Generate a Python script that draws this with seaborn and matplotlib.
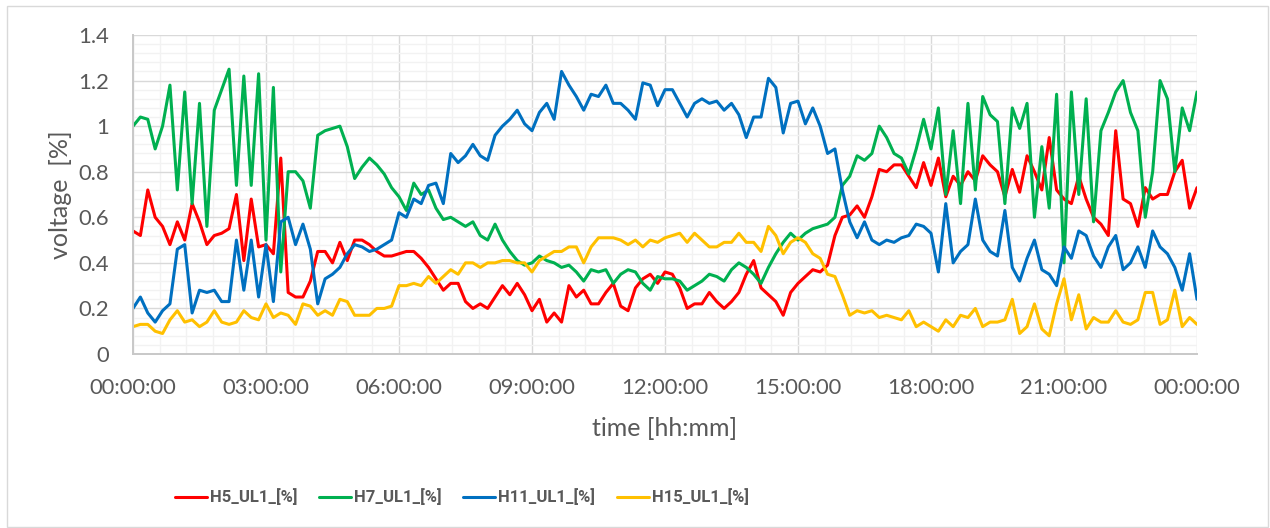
import numpy as np
import pandas as pd
import matplotlib
matplotlib.use("Agg")
import matplotlib.pyplot as plt
from matplotlib.patches import Rectangle
from matplotlib.ticker import FuncFormatter, MultipleLocator
import seaborn as sns

# Sample times: one reading every 10 minutes over a full day
minutes = np.arange(0, 24 * 60 + 1, 10)

h5 = [0.54, 0.52, 0.72, 0.60, 0.56, 0.48, 0.58, 0.50, 0.66, 0.58,
      0.48, 0.52, 0.53, 0.55, 0.70, 0.41, 0.68, 0.47, 0.48, 0.44,
      0.86, 0.27, 0.25, 0.25, 0.32, 0.45, 0.45, 0.40, 0.49, 0.41,
      0.50, 0.50, 0.48, 0.45, 0.43, 0.43, 0.44, 0.45, 0.45, 0.42,
      0.38, 0.33, 0.28, 0.31, 0.31, 0.23, 0.20, 0.22, 0.20, 0.25,
      0.30, 0.26, 0.31, 0.26, 0.19, 0.24, 0.14, 0.18, 0.14, 0.30,
      0.25, 0.28, 0.22, 0.22, 0.27, 0.31, 0.21, 0.19, 0.29, 0.33,
      0.35, 0.31, 0.36, 0.35, 0.29, 0.20, 0.22, 0.22, 0.27, 0.23,
      0.20, 0.23, 0.27, 0.35, 0.41, 0.29, 0.26, 0.23, 0.17, 0.27,
      0.31, 0.34, 0.37, 0.36, 0.39, 0.52, 0.60, 0.61, 0.65, 0.60,
      0.69, 0.81, 0.80, 0.83, 0.83, 0.78, 0.73, 0.84, 0.74, 0.86,
      0.69, 0.78, 0.74, 0.80, 0.76, 0.87, 0.83, 0.80, 0.69, 0.81,
      0.71, 0.87, 0.80, 0.72, 0.95, 0.72, 0.68, 0.66, 0.78, 0.68,
      0.60, 0.57, 0.52, 0.98, 0.68, 0.66, 0.56, 0.73, 0.68, 0.70,
      0.70, 0.80, 0.85, 0.64, 0.73]

h7 = [1.00, 1.04, 1.03, 0.90, 1.00, 1.18, 0.72, 1.15, 0.66, 1.10,
      0.56, 1.07, 1.16, 1.25, 0.74, 1.22, 0.74, 1.23, 0.50, 1.17,
      0.36, 0.80, 0.80, 0.76, 0.64, 0.96, 0.98, 0.99, 1.00, 0.91,
      0.77, 0.82, 0.86, 0.83, 0.79, 0.73, 0.69, 0.63, 0.75, 0.70,
      0.72, 0.64, 0.59, 0.60, 0.58, 0.56, 0.58, 0.52, 0.50, 0.57,
      0.50, 0.45, 0.41, 0.39, 0.40, 0.43, 0.41, 0.40, 0.38, 0.39,
      0.36, 0.32, 0.37, 0.36, 0.37, 0.31, 0.35, 0.37, 0.36, 0.31,
      0.28, 0.34, 0.33, 0.33, 0.32, 0.28, 0.30, 0.32, 0.35, 0.34,
      0.32, 0.37, 0.40, 0.38, 0.35, 0.31, 0.38, 0.44, 0.49, 0.53,
      0.50, 0.53, 0.55, 0.56, 0.57, 0.60, 0.74, 0.78, 0.87, 0.85,
      0.88, 1.00, 0.95, 0.88, 0.86, 0.79, 0.90, 1.03, 0.90, 1.08,
      0.70, 0.98, 0.66, 1.10, 0.72, 1.13, 1.05, 1.02, 0.66, 1.08,
      0.99, 1.10, 0.60, 0.91, 0.64, 1.14, 0.40, 1.15, 0.70, 1.12,
      0.58, 0.98, 1.06, 1.15, 1.20, 1.06, 0.98, 0.60, 0.80, 1.20,
      1.12, 0.80, 1.08, 0.98, 1.15]

h11 = [0.20, 0.25, 0.18, 0.14, 0.19, 0.22, 0.46, 0.48, 0.18, 0.28,
       0.27, 0.28, 0.23, 0.23, 0.50, 0.28, 0.50, 0.25, 0.48, 0.23,
       0.58, 0.60, 0.48, 0.57, 0.46, 0.22, 0.33, 0.35, 0.38, 0.44,
       0.48, 0.47, 0.45, 0.46, 0.48, 0.50, 0.62, 0.60, 0.68, 0.66,
       0.74, 0.75, 0.66, 0.88, 0.84, 0.87, 0.92, 0.87, 0.85, 0.96,
       1.00, 1.03, 1.07, 1.01, 0.98, 1.06, 1.10, 1.03, 1.24, 1.18,
       1.13, 1.07, 1.14, 1.13, 1.18, 1.10, 1.10, 1.07, 1.03, 1.19,
       1.18, 1.09, 1.16, 1.16, 1.10, 1.04, 1.10, 1.12, 1.10, 1.11,
       1.07, 1.10, 1.05, 0.95, 1.04, 1.04, 1.21, 1.17, 0.97, 1.10,
       1.11, 1.01, 1.08, 1.00, 0.88, 0.90, 0.72, 0.58, 0.51, 0.58,
       0.50, 0.48, 0.50, 0.49, 0.51, 0.52, 0.57, 0.56, 0.53, 0.36,
       0.66, 0.40, 0.45, 0.48, 0.68, 0.50, 0.45, 0.43, 0.63, 0.38,
       0.32, 0.42, 0.50, 0.37, 0.35, 0.30, 0.47, 0.42, 0.54, 0.52,
       0.43, 0.38, 0.47, 0.52, 0.37, 0.40, 0.47, 0.38, 0.54, 0.47,
       0.44, 0.38, 0.28, 0.44, 0.24]

h15 = [0.12, 0.13, 0.13, 0.10, 0.09, 0.15, 0.19, 0.14, 0.15, 0.12,
       0.14, 0.19, 0.14, 0.13, 0.14, 0.19, 0.16, 0.15, 0.22, 0.16,
       0.18, 0.17, 0.13, 0.22, 0.21, 0.17, 0.19, 0.17, 0.24, 0.23,
       0.17, 0.17, 0.17, 0.20, 0.20, 0.21, 0.30, 0.30, 0.31, 0.30,
       0.34, 0.31, 0.34, 0.37, 0.35, 0.40, 0.40, 0.38, 0.40, 0.40,
       0.41, 0.41, 0.40, 0.40, 0.36, 0.41, 0.43, 0.45, 0.45, 0.47,
       0.47, 0.40, 0.47, 0.51, 0.51, 0.51, 0.50, 0.48, 0.50, 0.47,
       0.50, 0.49, 0.51, 0.52, 0.53, 0.49, 0.53, 0.50, 0.47, 0.47,
       0.49, 0.49, 0.53, 0.49, 0.49, 0.45, 0.56, 0.52, 0.44, 0.49,
       0.51, 0.49, 0.44, 0.42, 0.35, 0.34, 0.26, 0.17, 0.19, 0.18,
       0.19, 0.16, 0.17, 0.16, 0.15, 0.19, 0.12, 0.14, 0.12, 0.10,
       0.15, 0.12, 0.17, 0.16, 0.20, 0.12, 0.14, 0.14, 0.15, 0.24,
       0.09, 0.12, 0.22, 0.11, 0.08, 0.22, 0.33, 0.15, 0.26, 0.11,
       0.16, 0.14, 0.14, 0.19, 0.14, 0.13, 0.15, 0.27, 0.27, 0.13,
       0.15, 0.28, 0.12, 0.16, 0.13]

series_names = ["H5_UL1_[%]", "H7_UL1_[%]", "H11_UL1_[%]", "H15_UL1_[%]"]
series_colors = ["#FF0000", "#00B050", "#0070C0", "#FFC000"]
x_tick_labels = ["00:00:00", "03:00:00", "06:00:00", "09:00:00", "12:00:00",
                 "15:00:00", "18:00:00", "21:00:00", "00:00:00"]

wide = pd.DataFrame({"hours": minutes / 60.0,
                     series_names[0]: h5, series_names[1]: h7,
                     series_names[2]: h11, series_names[3]: h15})
long = wide.melt(id_vars="hours", var_name="series", value_name="voltage")

sns.set_theme(style="white")
plt.rcParams["font.family"] = ["Lato", "DejaVu Sans"]
text_color = "#595959"

fig = plt.figure(figsize=(12.7, 5.28), dpi=100)
ax = fig.add_axes([133 / 1270, 1 - 354 / 528, (1197 - 133) / 1270, (354 - 35) / 528])

sns.lineplot(data=long, x="hours", y="voltage", hue="series",
             hue_order=series_names, palette=series_colors,
             linewidth=2.2, legend=False, ax=ax)

ax.set_xlim(0, 24)
ax.set_ylim(0, 1.4)
ax.set_xticks(np.arange(0, 25, 3))
ax.set_xticklabels(x_tick_labels)
ax.xaxis.set_minor_locator(MultipleLocator(0.6))
ax.yaxis.set_major_locator(MultipleLocator(0.2))
ax.yaxis.set_minor_locator(MultipleLocator(0.04))
ax.yaxis.set_major_formatter(FuncFormatter(lambda v, p: f"{v:g}"))

ax.set_axisbelow(True)
ax.grid(which="minor", color="#F2F2F2", linewidth=1.0)
ax.grid(which="major", color="#D9D9D9", linewidth=1.0)

for side in ("top", "right"):
    ax.spines[side].set_visible(False)
for side in ("left", "bottom"):
    ax.spines[side].set_color("#C8C8C8")
    ax.spines[side].set_linewidth(1.4)

ax.tick_params(axis="x", which="both", length=0, pad=17, labelsize=15.8, labelcolor=text_color)
ax.tick_params(axis="y", which="major", length=5, width=1.2, color="#C8C8C8",
               direction="out", pad=12, labelsize=15.8, labelcolor=text_color)
ax.tick_params(axis="y", which="minor", length=0)

ax.set_xlabel("time [hh:mm]", fontsize=18, color=text_color, labelpad=14)
ax.set_ylabel("voltage  [%]", fontsize=18, color=text_color, labelpad=5)

handles = ax.get_lines()[:4]
fig.legend(handles, series_names, loc="center", bbox_to_anchor=(462 / 1270, 1 - 497 / 528),
           ncol=4, frameon=False, handlelength=1.9, handletextpad=0.2, columnspacing=1.3,
           prop={"family": ["Roboto", "DejaVu Sans"], "weight": "bold", "size": 12},
           labelcolor=text_color)

fig.patches.append(Rectangle((7 / 1270, 1 / 528), (1268 - 7) / 1270, (527 - 6) / 528,
                             transform=fig.transFigure, fill=False,
                             edgecolor="#D9D9D9", linewidth=1.0))

fig.savefig("out.png", dpi=100, facecolor="white")
